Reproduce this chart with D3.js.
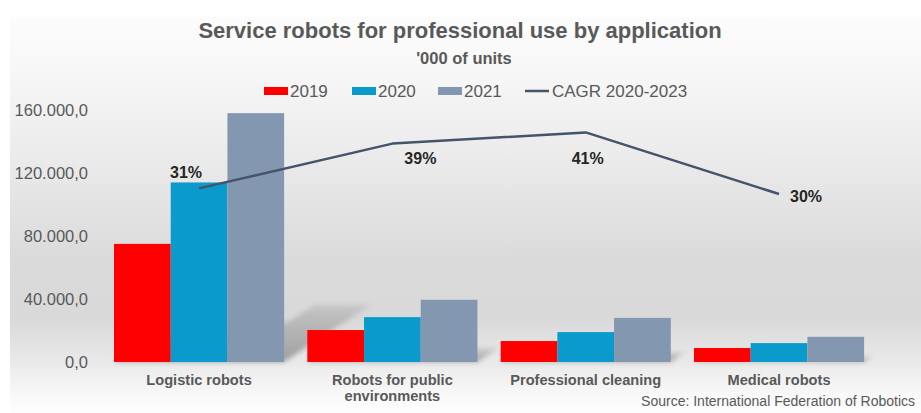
<!DOCTYPE html>
<html>
<head>
<meta charset="utf-8">
<script src="https://cdn.jsdelivr.net/npm/d3@7"></script>
<style>
  html, body { margin: 0; padding: 0; background: #ffffff; }
  svg { display: block; font-family: "Liberation Sans", Arial, sans-serif; }
</style>
</head>
<body>
<svg id="chart" width="921" height="413"></svg>
<script>
// Application categories (two-line labels where the name wraps)
const categories = ["Logistic robots", "Robots for public environments", "Professional cleaning", "Medical robots"];
const categoryLines = [["Logistic robots"], ["Robots for public", "environments"], ["Professional cleaning"], ["Medical robots"]];

// Units per year, one array per year
const years = ["2019", "2020", "2021"];
const units2019 = [75000, 20300, 13300, 8900];
const units2020 = [114000, 28500, 19000, 12000];
const units2021 = [158000, 39500, 28000, 16000];

// Compound annual growth rate 2020-2023 per category
const cagr = [0.31, 0.39, 0.41, 0.30];
const cagrLabels = ["31%", "39%", "41%", "30%"];

// Value axis ticks
const yTicks = [0, 40000, 80000, 120000, 160000];

const seriesByYear = [units2019, units2020, units2021];
const colors = { "2019": "#ff0000", "2020": "#0a9bcc", "2021": "#8497b0" };
const lineColor = "#44546a";
const textColor = "#595959";

// Where each CAGR label sits relative to its point
const labelOffsets = [
  { dx: -13, dy: -10, anchor: "middle" },
  { dx: 28, dy: 20, anchor: "middle" },
  { dx: 2, dy: 32, anchor: "middle" },
  { dx: 11, dy: 8, anchor: "start" }
];

const svg = d3.select("#chart");
const defs = svg.append("defs");

// Panel background: pale at the top, grey through the plot, fading out at the bottom
const bg = defs.append("linearGradient").attr("id", "panelGrad")
  .attr("x1", 0).attr("y1", 0).attr("x2", 0).attr("y2", 1);
[["0%", "#fcfcfc"], ["12%", "#f8f8f8"], ["35%", "#ebebeb"], ["62%", "#dadada"], ["76%", "#d9d9d9"],
 ["87%", "#e9e9e9"], ["95%", "#f8f8f8"], ["100%", "#fdfdfd"]]
  .forEach(([o, c]) => bg.append("stop").attr("offset", o).attr("stop-color", c));

svg.append("rect").attr("x", 10).attr("y", 17).attr("width", 911).attr("height", 396)
  .attr("fill", "url(#panelGrad)");

// Soft cast-shadow styling for the bars
const blur = defs.append("filter").attr("id", "shadowBlur")
  .attr("x", "-50%").attr("y", "-50%").attr("width", "200%").attr("height", "200%");
blur.append("feGaussianBlur").attr("stdDeviation", 2.5);
const shGrad = defs.append("linearGradient").attr("id", "shadowGrad")
  .attr("x1", 0).attr("y1", 1).attr("x2", 0).attr("y2", 0);
shGrad.append("stop").attr("offset", "0%").attr("stop-color", "#000").attr("stop-opacity", 0.32);
shGrad.append("stop").attr("offset", "100%").attr("stop-color", "#000").attr("stop-opacity", 0.08);

// Scales
const x0 = d3.scaleBand().domain(categories).range([102.4, 875.7]).paddingInner(0.12).paddingOuter(0.06);
const x1 = d3.scaleBand().domain(years).range([0, x0.bandwidth()]);
const y = d3.scaleLinear().domain([0, 160000]).range([362, 110]);
const yRate = d3.scaleLinear().domain([0, 0.45]).range([362, 110]);

const locale = d3.formatLocale({ decimal: ",", thousands: ".", grouping: [3], currency: ["", ""] });
const fmt = locale.format(",.1f");

// Title block
svg.append("text").attr("x", 460).attr("y", 38).attr("text-anchor", "middle")
  .attr("font-size", 22).attr("font-weight", "bold").attr("fill", textColor)
  .text("Service robots for professional use by application");
svg.append("text").attr("x", 464).attr("y", 64).attr("text-anchor", "middle")
  .attr("font-size", 16.5).attr("font-weight", "bold").attr("fill", textColor)
  .text("'000 of units");

// Legend
const legend = svg.append("g").attr("font-size", 17).attr("fill", textColor);
const legendX = [264, 352, 438];
years.forEach((yr, i) => {
  legend.append("rect").attr("x", legendX[i]).attr("y", 87).attr("width", 24).attr("height", 8)
    .attr("fill", colors[yr]);
  legend.append("text").attr("x", legendX[i] + 26).attr("y", 97).text(yr);
});
legend.append("line").attr("x1", 525).attr("x2", 549).attr("y1", 91).attr("y2", 91)
  .attr("stroke", lineColor).attr("stroke-width", 2.5);
legend.append("text").attr("x", 552).attr("y", 97).text("CAGR 2020-2023");

// Value axis (labels only)
const yAxis = svg.append("g").attr("transform", "translate(88,0)")
  .call(d3.axisLeft(y).tickValues(yTicks).tickFormat(fmt).tickSize(0).tickPadding(0));
yAxis.select(".domain").remove();
yAxis.selectAll("text").attr("font-size", 16.5).attr("fill", textColor)
  .attr("font-family", "Liberation Sans, Arial, sans-serif");

// Flattened bar records
const bars = [];
categories.forEach((c, ci) => years.forEach((yr, yi) => {
  bars.push({ cat: c, year: yr, value: seriesByYear[yi][ci] });
}));

// Shadows cast up and to the right behind each bar
const base = y(0);
svg.append("g").attr("filter", "url(#shadowBlur)")
  .selectAll("polygon").data(bars).join("polygon")
  .attr("fill", "url(#shadowGrad)")
  .attr("points", d => {
    const xa = x0(d.cat) + x1(d.year), xb = xa + x1.bandwidth();
    const h = base - y(d.value);
    const dx = h * 0.35, dy = h * 0.23;
    return [[xa, base], [xb, base], [xb + dx, base - dy], [xa + dx, base - dy]].join(" ");
  });

// Bars
svg.append("g").selectAll("rect").data(bars).join("rect")
  .attr("x", d => x0(d.cat) + x1(d.year))
  .attr("y", d => y(d.value))
  .attr("width", x1.bandwidth())
  .attr("height", d => base - y(d.value))
  .attr("fill", d => colors[d.year]);

// Category labels
const catAxis = svg.append("g").attr("font-size", 14.6).attr("font-weight", "bold").attr("fill", textColor)
  .attr("text-anchor", "middle");
categories.forEach((c, ci) => {
  const cx = x0(c) + x0.bandwidth() / 2;
  categoryLines[ci].forEach((ln, li) => {
    catAxis.append("text").attr("x", cx).attr("y", 385 + li * 16).text(ln);
  });
});

// CAGR line on its own (hidden) rate axis
const pts = categories.map((c, i) => [x0(c) + x0.bandwidth() / 2, yRate(cagr[i])]);
svg.append("path").attr("d", d3.line()(pts))
  .attr("fill", "none").attr("stroke", lineColor).attr("stroke-width", 2.5)
  .attr("stroke-linejoin", "round");

svg.append("g").attr("font-size", 16).attr("font-weight", "bold").attr("fill", "#262626")
  .selectAll("text").data(pts).join("text")
  .attr("x", (p, i) => p[0] + labelOffsets[i].dx)
  .attr("y", (p, i) => p[1] + labelOffsets[i].dy)
  .attr("text-anchor", (p, i) => labelOffsets[i].anchor)
  .text((p, i) => cagrLabels[i]);

// Source note
svg.append("text").attr("x", 915).attr("y", 406).attr("text-anchor", "end")
  .attr("font-size", 14).attr("fill", textColor)
  .text("Source: International Federation of Robotics");
</script>
</body>
</html>
